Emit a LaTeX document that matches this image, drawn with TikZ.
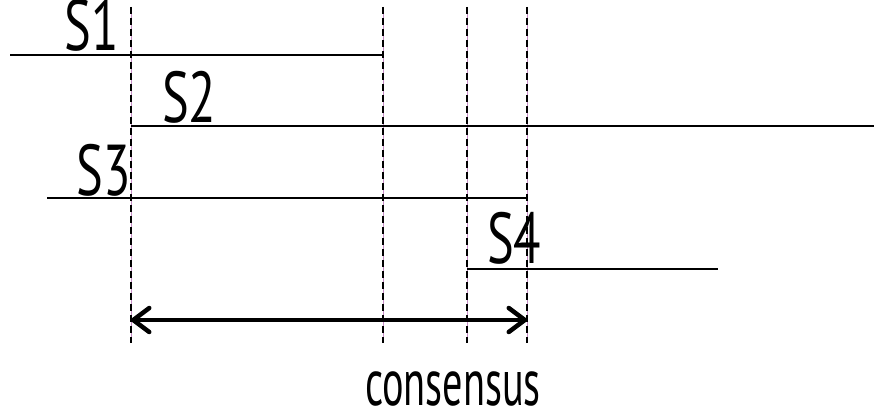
\documentclass[tikz,border=0pt]{standalone}
\usepackage{fontspec}
\setmainfont[FakeStretch=0.70]{PT Sans}
\newfontfamily\consfont[FakeStretch=0.61]{PT Sans}
\usetikzlibrary{arrows.meta}
\begin{document}
\begin{tikzpicture}[x=1pt,y=-1pt,
  lbl/.style={inner sep=0pt,font=\fontsize{72}{72}\selectfont},
  guide/.style={draw=violet!45!white,line width=1pt},
  guidedash/.style={draw=black,line width=2.6pt,dash pattern=on 7pt off 4pt},
  seg/.style={draw=black,line width=2.2pt},
  barb/.tip={Straight Barb[length=16pt,width=24pt,line width=4.5pt,round]},
  span/.style={draw=black,line width=4.5pt,barb-barb}]
\useasboundingbox (0,0) rectangle (874,417);
% guide endpoints
\foreach \n/\x in {a/131,b/383,c/467,d/527}{
  \coordinate (\n top) at (\x,7);
  \coordinate (\n bot) at (\x,343);
}
\foreach \n in {a,b,c,d}{
  \draw[guide] (\n top) -- (\n bot);
  \draw[guidedash] (\n top) -- (\n bot);
}
% session lines
\coordinate (s1l) at (10,55);  \coordinate (s1r) at (383,55);
\coordinate (s2l) at (131,126); \coordinate (s2r) at (874,126);
\coordinate (s3l) at (47,198);  \coordinate (s3r) at (527,198);
\coordinate (s4l) at (467,269); \coordinate (s4r) at (718,269);
\draw[seg] (s1l) -- (s1r);
\draw[seg] (s2l) -- (s2r);
\draw[seg] (s3l) -- (s3r);
\draw[seg] (s4l) -- (s4r);
% labels
\node[lbl,anchor=base east] (S1) at (119,51) {S1};
\node[lbl,anchor=base west] (S2) at (162,122) {S2};
\node[lbl,anchor=base east] (S3) at (131,195) {S3};
\node[lbl,anchor=base west] (S4) at (487,263) {S4};
% span arrow
\coordinate (arl) at (131,320);
\coordinate (arr) at (527,320);
\draw[span] (arl) -- (arr);
\node[lbl,font=\consfont\fontsize{66}{66}\selectfont,anchor=base] (cons) at (453,405) {consensus};
\end{tikzpicture}
\end{document}
